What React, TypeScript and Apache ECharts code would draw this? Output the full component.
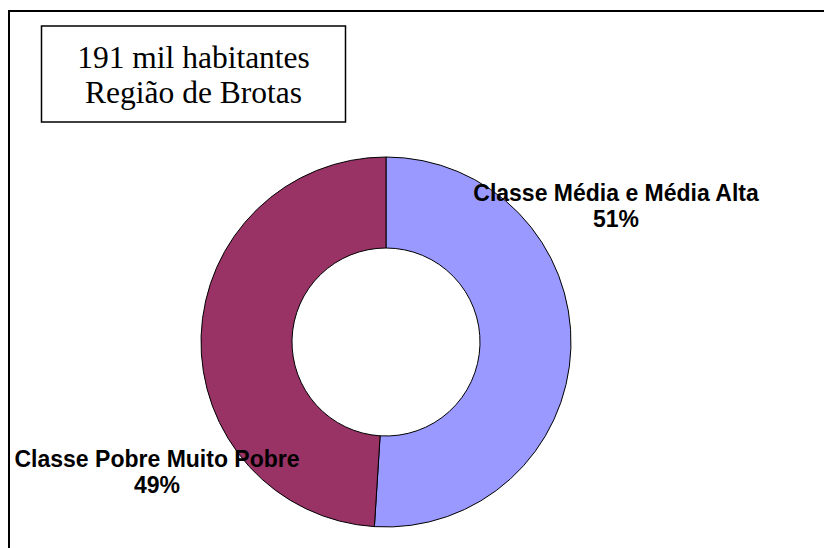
import React, { useEffect, useRef } from "react";
import * as echarts from "echarts";

const categories = ["Classe Média e Média Alta", "Classe Pobre Muito Pobre"];
const values = [51, 49];
const colors = ["#9999FF", "#993366"];
const titleLines = ["191 mil habitantes", "Região de Brotas"];

export default function App() {
  const ref = useRef<HTMLDivElement>(null);
  useEffect(() => {
    if (!ref.current) return;
    const chart = echarts.init(ref.current, null, { renderer: "svg" });
    const labelPos = [
      { x: 616, y: 206 },
      { x: 157, y: 472 },
    ];
    chart.setOption({
      animation: false,
      backgroundColor: "#ffffff",
      graphic: [
        {
          type: "rect",
          shape: { x: 9, y: 11, width: 840, height: 560 },
          style: { fill: "none", stroke: "#000", lineWidth: 2 },
          z: 0,
        },
        {
          type: "rect",
          shape: { x: 41.5, y: 26, width: 304, height: 96 },
          style: { fill: "#fff", stroke: "#000", lineWidth: 1.5 },
          z: 1,
        },
        {
          type: "text",
          x: 193.5,
          y: 74.5,
          z: 2,
          style: {
            text: titleLines.join("\n"),
            font: "31.5px 'Liberation Serif'",
            fill: "#000",
            align: "center",
            verticalAlign: "middle",
            lineHeight: 35,
          },
        },
      ],
      series: [
        {
          type: "pie",
          center: [386, 342],
          radius: [94, 185],
          startAngle: 90,
          clockwise: true,
          data: categories.map((c, i) => ({
            name: c,
            value: values[i],
            itemStyle: { color: colors[i] },
          })),
          itemStyle: { borderColor: "#000", borderWidth: 1 },
          emphasis: { disabled: true },
          label: {
            show: true,
            position: "outside",
            formatter: (p: any) => `${p.name}\n${Math.round(p.percent)}%`,
            fontFamily: "'Liberation Sans', Arial",
            fontWeight: "bold",
            fontSize: 23,
            lineHeight: 26,
            color: "#000",
            align: "center",
            overflow: "none",
            width: 400,
          },
          labelLine: { show: false },
          labelLayout: (params: any) => ({
            x: labelPos[params.dataIndex].x,
            y: labelPos[params.dataIndex].y,
            align: "center",
            verticalAlign: "middle",
          }),
        },
      ],
    });
    return () => chart.dispose();
  }, []);
  return (
    <div
      ref={ref}
      style={{ position: "fixed", left: 0, top: 0, width: 824, height: 548 }}
    />
  );
}
